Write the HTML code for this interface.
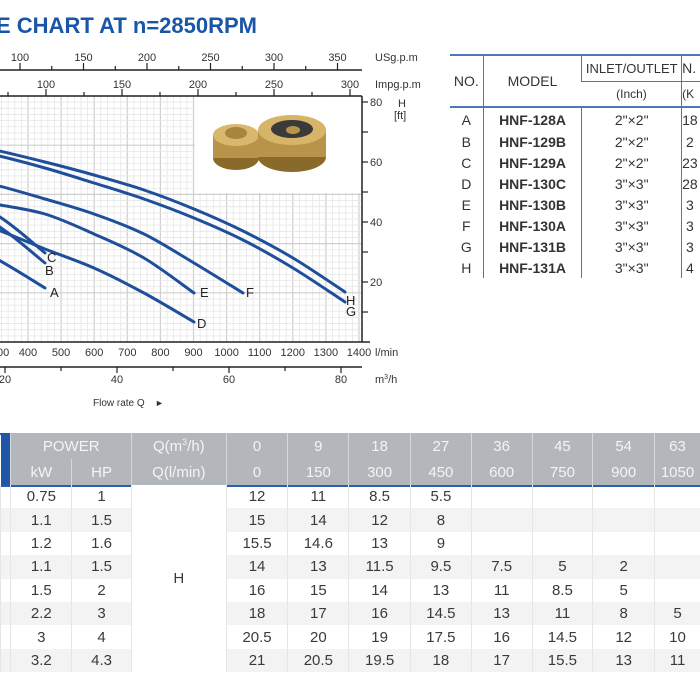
<!DOCTYPE html>
<html><head><meta charset="utf-8"><style>
body{margin:0;width:700px;height:700px;overflow:hidden;background:#fff;font-family:"Liberation Sans",sans-serif;position:relative}
.t{position:absolute;white-space:nowrap}
table{border-collapse:collapse;position:absolute}
#rt{left:450px;top:54px;font-size:14px;color:#333;border-top:2px solid #4a78b8}
#rt td{text-align:center;padding:0;border-left:1px solid #4a78b8;white-space:nowrap;overflow:hidden}
#rt td:first-child{border-left:none}
#bt{left:0;top:433px;font-family:"Liberation Sans Narrow","Liberation Sans",sans-serif;font-size:15px;color:#3a3a3a}
#bt td{text-align:center;padding:0;height:23.4px;border-left:1px solid #e6e6e6}
#bt tr.h td{background:#b3b6ba;color:#f4f4f4;height:26px;border-left:1px solid #d6d8db;font-size:15px}
</style></head><body>
<div class="t" style="left:-4px;top:13px;font-size:22px;font-weight:bold;color:#1a56a6">E CHART AT n=2850RPM</div>
<svg width="700" height="420" style="position:absolute;left:0;top:0" font-family="Liberation Sans,sans-serif" font-size="11" fill="#333">
<defs><clipPath id="c"><rect x="0" y="96" width="362" height="246"/></clipPath></defs>
<g id="grid" clip-path="url(#c)"></g>
<rect x="195" y="97" width="166" height="96" fill="#fff"/>
<g>
<ellipse cx="236" cy="158" rx="23" ry="12" fill="#8a6a2a"/>
<rect x="213" y="135" width="46" height="23" fill="#b8944a"/>
<ellipse cx="236" cy="135" rx="23" ry="11" fill="#d8b86c"/>
<ellipse cx="236" cy="133" rx="11" ry="6" fill="#a8843c"/>
<ellipse cx="292" cy="157" rx="34" ry="15" fill="#8a6a2a"/>
<rect x="258" y="130" width="68" height="27" fill="#b8944a"/>
<ellipse cx="292" cy="130" rx="34" ry="15" fill="#d6b468"/>
<ellipse cx="292" cy="129" rx="21" ry="9" fill="#3a3a3a"/>
<ellipse cx="293" cy="130" rx="7" ry="4" fill="#b8944a"/>
</g>
<g id="curves" fill="none" stroke="#1f4f9a" stroke-width="3" stroke-linecap="round" clip-path="url(#c)"></g>
<g font-size="13" fill="#222">
<text x="50" y="297">A</text><text x="45" y="275">B</text><text x="47" y="262">C</text>
<text x="197" y="328">D</text><text x="200" y="297">E</text><text x="246" y="297">F</text>
<text x="346" y="305">H</text>
<text x="346" y="316">G</text>
</g>
<g stroke="#222" stroke-width="1.5" fill="none">
<line x1="0" y1="70" x2="362" y2="70"/>
<line x1="0" y1="96" x2="362" y2="96"/>
<line x1="362" y1="96" x2="362" y2="342"/>
<line x1="0" y1="342" x2="370" y2="342"/>
<line x1="0" y1="367" x2="362" y2="367"/>
</g>
<g id="ticks" stroke="#222" stroke-width="1.2"></g>
<g id="labels"></g>
<text x="375" y="61">USg.p.m</text>
<text x="375" y="88">Impg.p.m</text>
<text x="398" y="107">H</text><text x="394" y="119">[ft]</text>
<text x="375" y="356">l/min</text>
<text x="375" y="383">m<tspan font-size="7" dy="-4">3</tspan><tspan dy="4">/h</tspan></text>
<text x="93" y="406" font-size="10">Flow rate Q</text>
<text x="155" y="406" font-size="9">►</text>
</svg>
<table id="rt">
<tr style="height:26px"><td rowspan="2" style="width:33px;border-bottom:2px solid #4a78b8">NO.</td><td rowspan="2" style="width:99px;border-bottom:2px solid #4a78b8">MODEL</td><td style="width:99px;max-width:99px;border-bottom:1px solid #4a78b8;font-size:13px">INLET/OUTLET</td><td style="width:18px;max-width:18px;border-bottom:1px solid #4a78b8;text-align:left">N.</td></tr>
<tr style="height:26px"><td style="font-size:12px;border-bottom:2px solid #4a78b8">(Inch)</td><td style="font-size:12px;border-bottom:2px solid #4a78b8;text-align:left">(K</td></tr>
<tr style="height:24px"><td>A</td><td><b>HNF-128A</b></td><td>2"×2"</td><td style="text-align:left">18</td></tr>
<tr style="height:21px"><td>B</td><td><b>HNF-129B</b></td><td>2"×2"</td><td style="text-align:left">&nbsp;2</td></tr>
<tr style="height:21px"><td>C</td><td><b>HNF-129A</b></td><td>2"×2"</td><td style="text-align:left">23</td></tr>
<tr style="height:21px"><td>D</td><td><b>HNF-130C</b></td><td>3"×3"</td><td style="text-align:left">28</td></tr>
<tr style="height:21px"><td>E</td><td><b>HNF-130B</b></td><td>3"×3"</td><td style="text-align:left">&nbsp;3</td></tr>
<tr style="height:21px"><td>F</td><td><b>HNF-130A</b></td><td>3"×3"</td><td style="text-align:left">&nbsp;3</td></tr>
<tr style="height:21px"><td>G</td><td><b>HNF-131B</b></td><td>3"×3"</td><td style="text-align:left">&nbsp;3</td></tr>
<tr style="height:21px"><td>H</td><td><b>HNF-131A</b></td><td>3"×3"</td><td style="text-align:left">&nbsp;4</td></tr>
</table>
<div style="position:absolute;left:0;top:433px;width:700px;height:54px;border-top:2px solid #2a5fae;border-bottom:2px solid #2a5fae;box-sizing:border-box"></div>
<table id="bt">
<tr class="h"><td style="width:10px;background:#1f56a8;border:none" rowspan="2"></td><td colspan="2" style="width:119px">POWER</td><td style="width:94px">Q(m<sup style="font-size:9px">3</sup>/h)</td><td style="width:61px">0</td><td style="width:60px">9</td><td style="width:61px">18</td><td style="width:60px">27</td><td style="width:60px">36</td><td style="width:60px">45</td><td style="width:61px">54</td><td style="width:45px">63</td></tr>
<tr class="h"><td style="width:60px">kW</td><td style="width:59px">HP</td><td>Q(l/min)</td><td>0</td><td>150</td><td>300</td><td>450</td><td>600</td><td>750</td><td>900</td><td>1050</td></tr>
<tr><td></td><td>0.75</td><td>1</td><td rowspan="8" style="background:#fff">H</td><td>12</td><td>11</td><td>8.5</td><td>5.5</td><td></td><td></td><td></td><td></td></tr>
<tr style="background:#f3f3f3"><td></td><td>1.1</td><td>1.5</td><td>15</td><td>14</td><td>12</td><td>8</td><td></td><td></td><td></td><td></td></tr>
<tr><td></td><td>1.2</td><td>1.6</td><td>15.5</td><td>14.6</td><td>13</td><td>9</td><td></td><td></td><td></td><td></td></tr>
<tr style="background:#f3f3f3"><td></td><td>1.1</td><td>1.5</td><td>14</td><td>13</td><td>11.5</td><td>9.5</td><td>7.5</td><td>5</td><td>2</td><td></td></tr>
<tr><td></td><td>1.5</td><td>2</td><td>16</td><td>15</td><td>14</td><td>13</td><td>11</td><td>8.5</td><td>5</td><td></td></tr>
<tr style="background:#f3f3f3"><td></td><td>2.2</td><td>3</td><td>18</td><td>17</td><td>16</td><td>14.5</td><td>13</td><td>11</td><td>8</td><td>5</td></tr>
<tr><td></td><td>3</td><td>4</td><td>20.5</td><td>20</td><td>19</td><td>17.5</td><td>16</td><td>14.5</td><td>12</td><td>10</td></tr>
<tr style="background:#f3f3f3"><td></td><td>3.2</td><td>4.3</td><td>21</td><td>20.5</td><td>19.5</td><td>18</td><td>17</td><td>15.5</td><td>13</td><td>11</td></tr>
</table>
<script>
var ns="http://www.w3.org/2000/svg";
function el(p,n,a,t){var e=document.createElementNS(ns,n);for(var k in a)e.setAttribute(k,a[k]);if(t!=null)e.textContent=t;document.getElementById(p).appendChild(e);}
for(var q=0;q<=1420;q+=20){var x=0.331*q-104.4;if(x<0||x>362)continue;var maj=q%100==0;el("grid","line",{x1:x,y1:96,x2:x,y2:342,stroke:maj?"#cfcfcf":"#e6e6e6","stroke-width":maj?1.2:0.8});}
for(var i=0;i<=40;i++){var y=342-i*6.15;if(y<96)break;var maj=i%8==0;el("grid","line",{x1:0,y1:y,x2:362,y2:y,stroke:maj?"#cfcfcf":"#e6e6e6","stroke-width":maj?1.2:0.8});}
var C=[
[[-104,224],[-55,234],[-5,258],[45,288]],
[[-104,194],[-55,204],[-5,224],[45,263]],
[[-104,189],[-55,198],[-5,214],[45,253]],
[[-104,204],[-55,214],[-5,229],[45,249],[94,268],[144,293],[194,322]],
[[-104,185],[-55,194],[-5,204],[45,214],[94,234],[144,258],[194,293]],
[[-104,165],[-55,175],[-5,185],[45,199],[94,214],[144,234],[194,263],[243,293]],
[[-104,140],[-55,145],[-5,155],[45,168],[94,183],[144,199],[194,218],[243,240],[293,268],[345,302]],
[[-104,135],[-55,140],[-5,150],[45,162],[94,175],[144,190],[194,209],[243,231],[293,258],[345,292]]];
C.forEach(function(p){var d="M"+p[0];for(var i=0;i<p.length-1;i++){var a=p[i-1]||p[i],b=p[i],c=p[i+1],e=p[i+2]||c;
d+=" C"+(b[0]+(c[0]-a[0])/6)+","+(b[1]+(c[1]-a[1])/6)+" "+(c[0]-(e[0]-b[0])/6)+","+(c[1]-(e[1]-b[1])/6)+" "+c;}
el("curves","path",{d:d});});
for(var v=75;v<=375;v+=25){var x=20+(v-100)*63.5/50;if(x<0||x>362)continue;var m=v%50==0;el("ticks","line",{x1:x,y1:70,x2:x,y2:m?63:66});if(m)el("labels","text",{x:x,y:61,"text-anchor":"middle"},v);}
for(var v=75;v<=310;v+=25){var x=46+(v-100)*76/50;if(x<0||x>362)continue;var m=v%50==0;el("ticks","line",{x1:x,y1:96,x2:x,y2:m?89:92});if(m)el("labels","text",{x:x,y:88,"text-anchor":"middle"},v);}
for(var h=10;h<=80;h+=10){var y=342-h*3;el("ticks","line",{x1:362,y1:y,x2:368,y2:y});if(h%20==0)el("labels","text",{x:370,y:y+4},h);}
for(var q=400;q<=1400;q+=100){var x=0.331*q-104.4;el("labels","text",{x:x,y:356,"text-anchor":"middle"},q);}
el("labels","text",{x:0,y:356,"text-anchor":"middle"},"300");
for(var m=20;m<=80;m+=10){var x=5+(m-20)*5.6;el("ticks","line",{x1:x,y1:367,x2:x,y2:m%20==0?373:371});if(m%20==0)el("labels","text",{x:x,y:383,"text-anchor":"middle"},m);}
</script>
</body></html>
